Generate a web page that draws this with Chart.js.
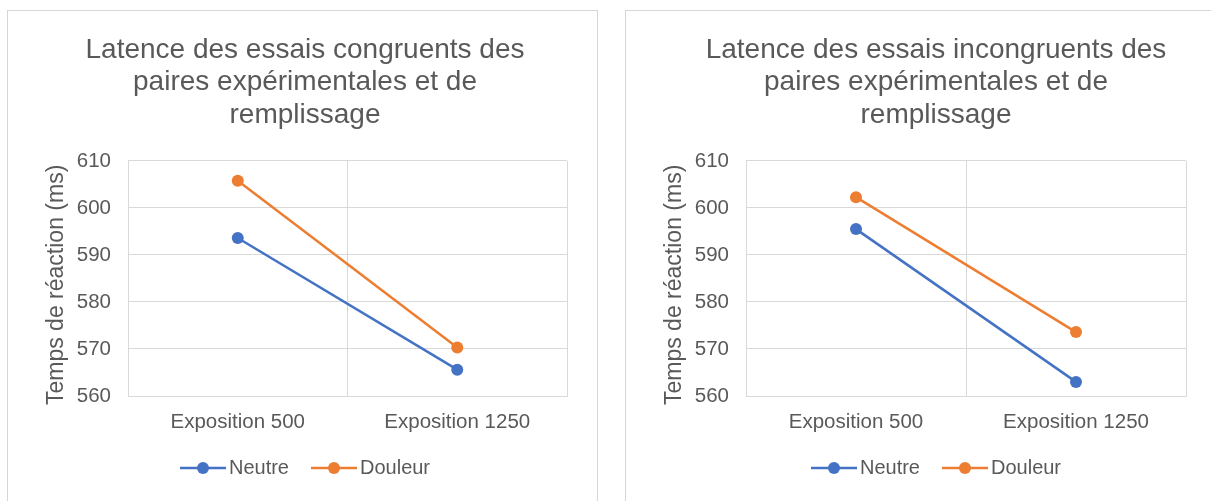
<!DOCTYPE html>
<html lang="fr">
<head>
<meta charset="utf-8">
<title>Latence des essais</title>
<script src="https://cdn.jsdelivr.net/npm/chart.js@4.4.1/dist/chart.umd.min.js"></script>
<style>
  html, body { margin: 0; padding: 0; background: #fff; overflow: hidden; }
  body { width: 1211px; height: 501px; position: relative; }
  .cadre { position: absolute; top: 10px; height: 500px; border: 1px solid #d6d6d6; background: #fff; }
  #cadreGauche { left: 7px; width: 589px; }
  #cadreDroite { left: 625px; width: 616px; }
  canvas { display: block; }
</style>
</head>
<body>
<div class="cadre" id="cadreGauche"><canvas id="congruents" width="588" height="490"></canvas></div>
<div class="cadre" id="cadreDroite"><canvas id="incongruents" width="614" height="490"></canvas></div>
<script>
const categories = ['Exposition 500', 'Exposition 1250'];
const series = ['Neutre', 'Douleur'];
const congruentNeutre = [593.6, 565.6];
const congruentDouleur = [605.8, 570.3];
const incongruentNeutre = [595.5, 563.0];
const incongruentDouleur = [602.3, 573.6];
const ticksY = [560, 570, 580, 590, 600, 610];
const titreCongruents = ['Latence des essais congruents des', 'paires expérimentales et de', 'remplissage'];
const titreIncongruents = ['Latence des essais incongruents des', 'paires expérimentales et de', 'remplissage'];
const titreAxeY = 'Temps de réaction (ms)';

const bleu = '#4472C4';
const orange = '#ED7D31';
const gris = '#595959';
const grille = '#d9d9d9';

Chart.defaults.font.family = "'Liberation Sans', Arial, Helvetica, sans-serif";
Chart.defaults.color = gris;

// icone ligne + point pour la légende (marge transparente à gauche)
function iconeLegende(couleur) {
    const c = document.createElement('canvas');
    c.width = 53;
    c.height = 14;
    const g = c.getContext('2d');
    g.strokeStyle = couleur;
    g.lineWidth = 2.5;
    g.beginPath();
    g.moveTo(7, 7);
    g.lineTo(53, 7);
    g.stroke();
    g.fillStyle = couleur;
    g.beginPath();
    g.arc(30, 7, 6, 0, Math.PI * 2);
    g.fill();
    return c;
}

function creerGraphique(idCanvas, titre, neutre, douleur, espaceDroite) {
    const ctx = document.getElementById(idCanvas);
    const icones = [iconeLegende(bleu), iconeLegende(orange)];

    return new Chart(ctx, {
        type: 'line',
        data: {
            labels: categories,
            datasets: [{
                label: series[0],
                data: neutre,
                borderColor: bleu,
                backgroundColor: bleu,
                borderWidth: 2.5,
                pointRadius: 6,
                pointBorderWidth: 0,
                pointBackgroundColor: bleu,
                tension: 0
            }, {
                label: series[1],
                data: douleur,
                borderColor: orange,
                backgroundColor: orange,
                borderWidth: 2.5,
                pointRadius: 6,
                pointBorderWidth: 0,
                pointBackgroundColor: orange,
                tension: 0
            }]
        },
        options: {
            responsive: false,
            animation: false,
            events: [],
            layout: {
                padding: { left: 35, right: 29, top: 0, bottom: 13 }
            },
            plugins: {
                title: {
                    display: true,
                    text: titre,
                    color: gris,
                    font: { size: 28, weight: 'normal', lineHeight: 1.16 },
                    padding: { top: 23, bottom: 29.5 }
                },
                legend: {
                    position: 'bottom',
                    labels: {
                        usePointStyle: true,
                        pointStyleWidth: 39,
                        padding: 22,
                        color: gris,
                        font: { size: 20 },
                        generateLabels: function (chart) {
                            const items = Chart.defaults.plugins.legend.labels.generateLabels(chart);
                            items.forEach(item => { item.pointStyle = icones[item.datasetIndex]; });
                            return items;
                        }
                    }
                },
                tooltip: { enabled: false }
            },
            scales: {
                x: {
                    type: 'category',
                    offset: true,
                    grid: { offset: true, color: grille, lineWidth: 1, drawTicks: false },
                    border: { color: grille },
                    ticks: { padding: 14, color: gris, font: { size: 20.5 } },
                    afterFit: function (scale) { scale.height = 40; }
                },
                y: {
                    min: ticksY[0],
                    max: ticksY[ticksY.length - 1],
                    afterBuildTicks: function (scale) {
                        scale.ticks = ticksY.map(v => ({ value: v }));
                    },
                    grid: { color: grille, lineWidth: 1, drawTicks: false },
                    border: { color: grille },
                    ticks: { padding: 17, color: gris, font: { size: 20.5 } },
                    title: {
                        display: true,
                        text: titreAxeY + '\u00a0\u00a0',
                        color: gris,
                        font: { size: 23 },
                        padding: 0
                    },
                    afterFit: function (scale) { scale.width = 85; }
                },
                vide: {
                    type: 'linear',
                    position: 'right',
                    display: espaceDroite > 0,
                    grid: { display: false },
                    border: { display: false },
                    ticks: { display: false },
                    afterFit: function (scale) { scale.width = espaceDroite; }
                }
            }
        }
    });
}

document.addEventListener('DOMContentLoaded', function () {
    try {
        creerGraphique('congruents', titreCongruents, congruentNeutre, congruentDouleur, 0);
        creerGraphique('incongruents', titreIncongruents, incongruentNeutre, incongruentDouleur, 25);
    } catch (error) {
        console.error('Erreur lors de la création des graphiques :', error);
    }
});
</script>
</body>
</html>
